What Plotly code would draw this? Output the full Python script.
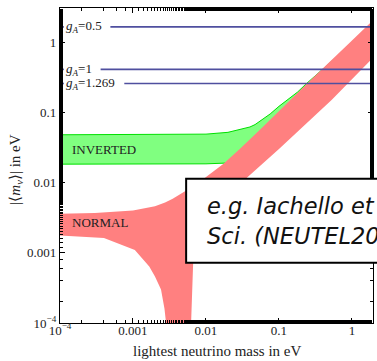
import math
import plotly.graph_objects as go

# ---- data ----
# normal hierarchy band (red)
nh_up_m = [1e-4, 3e-4, 1e-3, 2e-3, 2.75e-3, 3.5e-3, 5.16e-3, 7e-3, 0.0097, 0.0174, 0.03, 0.06, 0.143, 0.3, 1.0, 2.0]
nh_up_v = [0.0036, 0.0037, 0.0040, 0.0046, 0.0052, 0.0059, 0.0075, 0.0092, 0.0117, 0.0185, 0.031, 0.062, 0.152, 0.318, 1.06, 2.12]
nh_lo_m = [1e-4, 4e-4, 1.06e-3, 1.67e-3, 2.0e-3, 2.42e-3, 2.7e-3, 2.84e-3, 2.95e-3, 6.2e-3, 6.25e-3, 6.72e-3, 7.48e-3, 0.01, 0.02, 0.0363, 0.1, 0.53, 2.0]
nh_lo_v = [0.00177, 0.00163, 0.0011, 0.00064, 0.00046, 0.000299, 0.00016, 0.0001, 1e-6, 1e-6, 0.0001, 0.00089, 0.0013, 0.0028, 0.0062, 0.0117, 0.03, 0.152, 0.62]

# inverted hierarchy band (green)
ih_m = [1e-4, 1e-3, 5e-3, 0.01, 0.02, 0.03, 0.04, 0.047, 0.06, 0.0757, 0.1, 0.143, 0.18, 0.229, 0.5, 1.0, 2.0]
ih_up = [0.048, 0.048, 0.0485, 0.049, 0.052, 0.057, 0.062, 0.067, 0.079, 0.095, 0.122, 0.16, 0.195, 0.248, 0.51, 1.0, 2.0]
ih_lo = [0.0183, 0.0183, 0.0184, 0.0185, 0.019, 0.021, 0.023, 0.025, 0.029, 0.034, 0.043, 0.058, 0.072, 0.09, 0.19, 0.38, 0.76]

# g_A limits (label text, value, where the line resumes after the label)
ga_labels = ["0.5", "1", "1.269"]
ga_values = [1.65, 0.41, 0.258]
ga_gap_end = [4.9e-4, 3.6e-4, 7.6e-4]
ga_gap_start = 1.13e-4

x_tickvals = [1e-4, 1e-3, 1e-2, 1e-1, 1]
x_ticktext = ["10<sup>−4</sup>", "0.001", "0.01", "0.1", "1"]
y_tickvals = [1e-4, 1e-3, 1e-2, 1e-1, 1]
y_ticktext = ["10<sup>−4</sup>", "0.001", "0.01", "0.1", "1"]

X_RANGE = [-4, 0.288]
Y_RANGE = [-4, 0.487]
serif = "Liberation Serif"

fig = go.Figure()

# green band
fig.add_trace(go.Scatter(
    x=ih_m + ih_m[::-1], y=ih_up + ih_lo[::-1],
    fill="toself", fillcolor="#80ff80", mode="lines",
    line=dict(color="#00e000", width=1), hoverinfo="skip", showlegend=False))

# red band
fig.add_trace(go.Scatter(
    x=nh_up_m + nh_lo_m[::-1], y=nh_up_v + nh_lo_v[::-1],
    fill="toself", fillcolor="#ff8080", mode="lines",
    line=dict(color="#ff8080", width=0), hoverinfo="skip", showlegend=False))

# g_A lines (broken where the label sits)
for lab, val, gap_end in zip(ga_labels, ga_values, ga_gap_end):
    fig.add_trace(go.Scatter(
        x=[10**X_RANGE[0], ga_gap_start, None, gap_end, 10**X_RANGE[1]],
        y=[val, val, None, val, val], mode="lines",
        line=dict(color="#4f4f9f", width=1.6), hoverinfo="skip", showlegend=False))
    fig.add_annotation(
        x=0.015, xref="paper", y=math.log10(val), yref="y", xanchor="left", yanchor="middle",
        text="<i>g</i><sub><i>A</i></sub>=" + lab, showarrow=False, borderpad=0,
        font=dict(family=serif, size=13, color="#222222"))

# band labels
fig.add_annotation(x=0.031, xref="paper", y=math.log10(0.0295), yref="y", xanchor="left", yanchor="middle",
                   text="INVERTED", showarrow=False, font=dict(family=serif, size=13, color="#222222"))
fig.add_annotation(x=0.031, xref="paper", y=math.log10(0.0027), yref="y", xanchor="left", yanchor="middle",
                   text="NORMAL", showarrow=False, font=dict(family=serif, size=13, color="#222222"))

# overlay box
fig.add_shape(type="rect", xref="paper", yref="paper", x0=0.403, x1=1.2, y0=0.1914, y1=0.458,
              fillcolor="white", line=dict(color="black", width=2), layer="above")
fig.add_annotation(x=0.462, xref="paper", y=(323.3 - 206.7) / 315, yref="paper",
                   xanchor="left", yanchor="middle", showarrow=False,
                   text="e.g. Iachello et al., Proc. of",
                   font=dict(family="DejaVu Sans", size=22.5, color="#111111", style="italic"))
fig.add_annotation(x=0.462, xref="paper", y=(323.3 - 236.7) / 315, yref="paper",
                   xanchor="left", yanchor="middle", showarrow=False,
                   text="Sci. (NEUTEL2015)",
                   font=dict(family="DejaVu Sans", size=22.5, color="#111111", style="italic"))

# axis titles
fig.add_annotation(x=(216.7 - 60) / 312.6, xref="paper", y=(323.3 - 351.5) / 315, yref="paper",
                   xanchor="center", yanchor="middle", showarrow=False,
                   text="lightest neutrino mass in eV", font=dict(family=serif, size=15, color="#222222"))
fig.add_annotation(x=(16 - 60) / 312.6, xref="paper", y=(323.3 - 170) / 315, yref="paper",
                   xanchor="center", yanchor="middle", showarrow=False, textangle=-90,
                   text="|⟨<i>m</i><sub><i>ν</i></sub>⟩| in eV", font=dict(family=serif, size=15, color="#222222"))

axis_common = dict(
    type="log", showgrid=False, zeroline=False,
    showline=True, linecolor="black", linewidth=1.2, mirror="allticks",
    ticks="inside", ticklen=5, tickcolor="black", tickwidth=1,
    minor=dict(ticks="inside", ticklen=2.5, tickcolor="black", showgrid=False),
    tickfont=dict(family=serif, size=13, color="#222222"),
)
fig.update_xaxes(range=X_RANGE, tickvals=x_tickvals, ticktext=x_ticktext, ticklabelstandoff=-5, **axis_common)
fig.update_yaxes(range=Y_RANGE, tickvals=y_tickvals, ticktext=y_ticktext, **axis_common)

fig.update_layout(
    width=377, height=361,
    margin=dict(l=60, r=4, t=8, b=38),
    paper_bgcolor="white", plot_bgcolor="white",
    showlegend=False,
)

fig.write_html("out.html")
